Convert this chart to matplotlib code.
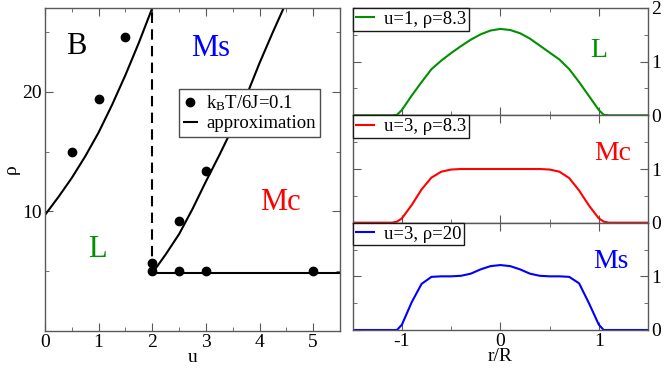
import numpy as np
import matplotlib.pyplot as plt
from matplotlib.ticker import MultipleLocator

plt.rcParams['font.family'] = ['Liberation Serif', 'DejaVu Serif']
plt.rcParams['mathtext.fontset'] = 'custom'
plt.rcParams['mathtext.rm'] = 'Liberation Serif'
plt.rcParams['mathtext.it'] = 'Liberation Serif:italic'
plt.rcParams['axes.unicode_minus'] = False

# ---- phase diagram (left) ----
u_sim = [0.5, 1.0, 1.5, 2.0, 2.0, 2.5, 2.5, 3.0, 3.0, 5.0]
rho_sim = [15.0, 19.4, 24.6, 5.7, 5.0, 9.2, 5.0, 13.4, 5.0, 5.0]

u_left = [0.0, 0.25, 0.5, 0.75, 1.0, 1.25, 1.5, 1.75, 2.0]
rho_left = [9.7, 11.2, 12.8, 14.6, 16.6, 18.9, 21.4, 24.1, 27.0]

u_right = [2.0, 2.25, 2.5, 2.75, 3.0, 3.25, 3.5, 3.75, 4.0, 4.25, 4.45]
rho_right = [4.83, 6.4, 8.1, 10.2, 12.5, 14.7, 17.0, 19.6, 22.4, 25.0, 27.0]

u_flat = [2.0, 5.5]
rho_flat = [4.83, 4.83]

u_dash = [2.0, 2.0]
rho_dash = [4.83, 27.0]

# ---- density profiles (right) ----
r = [-1.5, -1.2, -1.1, -1.05, -1.0, -0.9, -0.8, -0.7, -0.6, -0.5, -0.4, -0.3, -0.2, -0.1,
     0.0, 0.1, 0.2, 0.3, 0.4, 0.5, 0.6, 0.7, 0.8, 0.9, 1.0, 1.05, 1.1, 1.2, 1.5]
prof_L = [0.0, 0.0, 0.0, 0.01, 0.1, 0.37, 0.62, 0.86, 1.02, 1.16, 1.29, 1.41, 1.51, 1.58,
          1.61, 1.59, 1.53, 1.43, 1.30, 1.17, 1.04, 0.86, 0.62, 0.36, 0.1, 0.01, 0.0, 0.0, 0.0]
prof_Mc = [0.0, 0.0, 0.0, 0.02, 0.08, 0.33, 0.62, 0.84, 0.95, 0.99, 1.0, 1.0, 1.0, 1.0,
           1.0, 1.0, 1.0, 1.0, 1.0, 0.99, 0.95, 0.83, 0.6, 0.32, 0.08, 0.02, 0.0, 0.0, 0.0]
prof_Ms = [0.0, 0.0, 0.0, 0.0, 0.1, 0.52, 0.86, 0.99, 1.0, 1.0, 1.01, 1.05, 1.13, 1.19,
           1.21, 1.19, 1.13, 1.05, 1.01, 1.0, 1.0, 0.99, 0.87, 0.5, 0.1, 0.0, 0.0, 0.0, 0.0]

profiles = [(prof_L, '#009000', 'u=1, ρ=8.3', 'L'),
            (prof_Mc, '#ff0000', 'u=3, ρ=8.3', 'Mc'),
            (prof_Ms, '#0000ff', 'u=3, ρ=20', 'Ms')]

spine_c = '0.35'

fig = plt.figure(figsize=(6.64, 3.69), dpi=100)

ax = fig.add_axes([45/664, 38/369, 295/664, 323/369])
ax.plot(u_left, rho_left, color='k', lw=1.5)
ax.plot(u_right, rho_right, color='k', lw=1.5)
ax.plot(u_flat, rho_flat, color='k', lw=1.5, label='approximation')
ax.plot(u_dash, rho_dash, color='k', lw=1.5, dashes=(5, 3))
ax.plot(u_sim, rho_sim, 'o', color='k', ms=6, label=r'k$_\mathrm{B}$T/6J=0.1', zorder=5)
ax.set_xlim(0, 5.5)
ax.set_ylim(0, 27)
ax.set_xticks([0, 1, 2, 3, 4, 5])
ax.xaxis.set_minor_locator(MultipleLocator(0.5))
ax.set_yticks([10, 20])
ax.set_yticks([5, 15, 25], minor=True)
ax.set_xlabel('u', fontsize=14, labelpad=-1)
ax.set_ylabel('ρ', fontsize=14, labelpad=2)
ax.text(0.59, 23.8, 'B', fontsize=22, color='k', ha='center', va='center')
ax.text(3.08, 23.6, 'Ms', fontsize=22, color='#0000ff', ha='center', va='center')
ax.text(4.39, 10.7, 'Mc', fontsize=22, color='#ff0000', ha='center', va='center')
ax.text(0.98, 6.8, 'L', fontsize=22, color='#009000', ha='center', va='center')
h, l = ax.get_legend_handles_labels()
leg = ax.legend(h[::-1], l[::-1], loc='upper left', bbox_to_anchor=(0.454, 0.749),
                borderaxespad=0, fontsize=13.5, numpoints=1, handlelength=0.7,
                handletextpad=0.5, fancybox=False, framealpha=1, edgecolor='0.3',
                borderpad=0.25, labelspacing=0.1)
leg.get_frame().set_linewidth(1.0)

ax_list = [ax]
top = 8
ph = 322 / 3
for i, (prof, col, lab, name) in enumerate(profiles):
    y0 = 369 - (top + (i + 1) * ph)
    a = fig.add_axes([352.7/664, y0/369, 295.3/664, ph/369])
    a.plot(r, prof, color=col, lw=1.5, label=lab)
    a.set_xlim(-1.5, 1.5)
    a.set_ylim(0, 2)
    a.set_xticks([-1, 0, 1])
    a.xaxis.set_minor_locator(MultipleLocator(0.5))
    a.set_yticks([0, 1, 2] if i == 0 else [0, 1])
    a.set_yticks([0.5, 1.5], minor=True)
    a.yaxis.tick_right()
    if i < 2:
        a.tick_params(labelbottom=False)
    else:
        a.set_xlabel('r/R', fontsize=14, labelpad=-1)
    tx = [1.0, 1.14, 1.12][i]
    ty = [1.2, 1.29, 1.28][i]
    a.text(tx, ty, name, fontsize=20, color=col, ha='center', va='center')
    lg = a.legend(loc='upper left', borderaxespad=0, fontsize=13.5, handlelength=1.0,
                  handletextpad=0.5, fancybox=False, framealpha=1, edgecolor='0.1',
                  borderpad=0.15)
    lg.get_frame().set_linewidth(1.0)
    ax_list.append(a)

for a in ax_list:
    a.tick_params(which='both', direction='in', top=True, bottom=True, left=True, right=True,
                  labelsize=14, color=spine_c)
    a.tick_params(which='major', length=6, pad=2)
    a.tick_params(which='minor', length=3)
    for s in a.spines.values():
        s.set_color(spine_c)
        s.set_linewidth(1.0)

fig.savefig('out.png', dpi=100)
